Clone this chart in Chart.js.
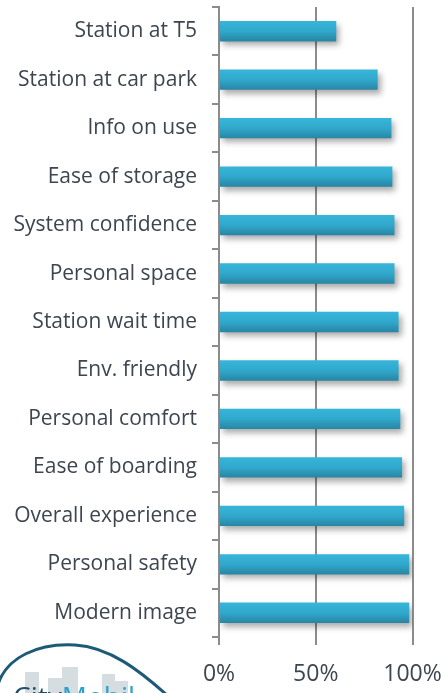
<!DOCTYPE html>
<html><head><meta charset="utf-8">
<script src="https://cdn.jsdelivr.net/npm/chart.js@4.4.0/dist/chart.umd.min.js"></script>
<style>
html,body{margin:0;padding:0;background:#fff;}
#wrap{position:relative;width:444px;height:693px;overflow:hidden;}
canvas{position:absolute;left:0;top:0;}
#logo{position:absolute;left:0;top:636px;width:210px;height:57px;overflow:hidden;}
#logo svg{position:absolute;left:0;top:0;}
#lt{position:absolute;left:13px;top:46px;font-family:'Open Sans',sans-serif;font-size:28px;line-height:28px;white-space:nowrap;}
#lt .city{color:#1c4f6c;}
#lt .mobil{color:#2aa3cc;}
</style></head><body>
<div id="wrap">
<canvas id="c" width="444" height="693"></canvas>
<div id="logo">
<svg width="210" height="57" viewBox="0 0 210 57">
<rect x="25" y="36" width="14" height="21" fill="#d6dde1"/>
<rect x="48" y="42" width="14" height="15" fill="#d6dde1"/>
<rect x="62" y="31" width="16" height="26" fill="#d6dde1"/>
<rect x="102" y="38" width="13" height="19" fill="#d6dde1"/>
<rect x="115" y="45" width="13" height="12" fill="#d6dde1"/>
<path d="M -3 52 C 5 20, 40 7, 75 9 C 110 11, 140 35, 168 60" fill="none" stroke="#1d5a78" stroke-width="3"/>
</svg>
<div id="lt"><span class="city">City</span><span class="mobil">Mobil</span></div>
</div>
</div>
<script>
const categories = ['Station at T5','Station at car park','Info on use','Ease of storage','System confidence','Personal space','Station wait time','Env. friendly','Personal comfort','Ease of boarding','Overall experience','Personal safety','Modern image'];
const values = [0.606, 0.82, 0.891, 0.896, 0.907, 0.907, 0.928, 0.928, 0.937, 0.946, 0.957, 0.983, 0.983];
const xTickValues = [0, 0.5, 1];
const xTickLabels = ['0%','50%','100%'];

const BAR_PCT = 0.42;
const textColor = '#3d4650';
const lineColor = '#8c8c8c';
const AREA = {top:7, bottom:637, right:412.5};

const shadowPlugin = {
  id:'shadow',
  beforeDatasetsDraw(chart){
    const c = chart.ctx; c.save();
    c.shadowColor='rgba(0,0,0,0.33)'; c.shadowBlur=6; c.shadowOffsetX=3; c.shadowOffsetY=4;
  },
  afterDatasetsDraw(chart){ chart.ctx.restore(); }
};

function noPad(s){ s.paddingTop=0; s.paddingBottom=0; s.paddingLeft=0; s.paddingRight=0; }

const chart = new Chart(document.getElementById('c'), {
  type:'bar',
  data:{ labels:categories, datasets:[{ data:values,
    backgroundColor:(ctx)=>{
      const ch = ctx.chart; const ys = ch.scales && ch.scales.y;
      if(!ys || ctx.dataIndex===undefined) return '#30a8cc';
      const cy = ys.getPixelForValue(ctx.dataIndex);
      const h = (ys.height/categories.length)*BAR_PCT;
      if(!isFinite(cy) || !isFinite(h) || h<=0) return '#30a8cc';
      const g = ch.ctx.createLinearGradient(0, cy-h/2, 0, cy+h/2);
      g.addColorStop(0,'#37b6da'); g.addColorStop(0.5,'#30a8cc'); g.addColorStop(1,'#2885a3');
      return g;
    },
    barPercentage:BAR_PCT, categoryPercentage:1, borderWidth:0 }]},
  options:{
    indexAxis:'y', responsive:false, animation:false,
    layout:{padding:{top:7,right:31.5,bottom:7.6,left:0}},
    plugins:{legend:{display:false}, tooltip:{enabled:false}},
    scales:{
      x:{ min:0, max:1,
        afterBuildTicks:(s)=>{ s.ticks = xTickValues.map(v=>({value:v})); },
        afterFit:noPad,
        ticks:{ callback:(v,i)=>xTickLabels[i], font:{family:'Open Sans',size:23}, color:textColor, padding:16, maxRotation:0, autoSkip:false },
        grid:{ color:lineColor, lineWidth:2, tickLength:8 },
        border:{ display:false }
      },
      y:{ afterFit:(s)=>{ s.width = 219; noPad(s); },
        ticks:{ font:{family:'Open Sans',size:21}, color:textColor, padding:15, autoSkip:false },
        grid:{ drawOnChartArea:false, color:lineColor, lineWidth:2, tickLength:7 },
        border:{ color:lineColor, width:2 }
      }
    }
  },
  plugins:[shadowPlugin]
});

// nudge layout padding so the plot area lands where the reference has it
for (let k=0; k<3; k++){
  const a = chart.chartArea, p = chart.options.layout.padding;
  const dt = AREA.top - a.top, db = a.bottom - AREA.bottom, dr = a.right - AREA.right;
  if (Math.abs(dt)<0.3 && Math.abs(db)<0.3 && Math.abs(dr)<0.3) break;
  p.top += dt; p.bottom += db; p.right += dr;
  chart.update();
}
</script>
</body></html>
